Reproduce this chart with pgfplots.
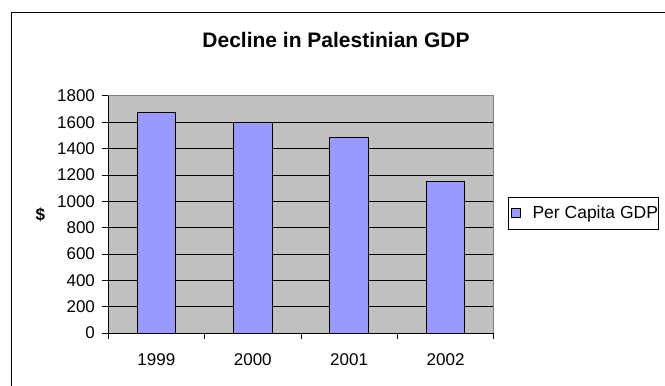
\documentclass[border=0pt]{standalone}
\usepackage{pgfplots}
\pgfplotsset{compat=1.18}
\usepackage{fontspec}
\setmainfont{Liberation Sans}
\definecolor{barblue}{HTML}{9999FF}
\definecolor{plotgray}{HTML}{C0C0C0}
\definecolor{bordergray}{HTML}{808080}
\begin{document}
\begin{tikzpicture}[x=1pt,y=1pt]
\path[use as bounding box] (0,0) rectangle (665,386);
\draw[black, line width=1pt] (11,0) -- (11,373) -- (665,373);
\begin{axis}[
  at={(112.2,40.1)}, anchor=south west,
  scale only axis, width=385.6pt, height=237.3pt,
  xmin=-0.5, xmax=3.5, ymin=0, ymax=1800,
  ytick={0,200,...,1800},
  xtick={0,1,2,3},
  xticklabels={1999,2000,2001,2002},
  minor xtick={-0.5,0.5,1.5,2.5,3.5},
  major x tick style={draw=none},
  minor x tick style={draw=black, line width=0.8pt},
  y tick style={draw=black, line width=0.8pt},
  tick align=outside,
  major tick length=6pt, minor tick length=6pt,
  tick pos=left,
  ymajorgrids,
  major grid style={draw=black, line width=0.8pt},
  axis line style={draw=bordergray, line width=0.8pt},
  axis background/.style={fill=plotgray},
  /pgf/number format/assume math mode=true,
  /pgf/number format/1000 sep={},
  ticklabel style={font=\fontsize{17}{20}\selectfont},
  yticklabel style={xshift=-3.7pt},
  xticklabel style={yshift=-11pt},
  title={\textbf{Decline in Palestinian GDP}},
  title style={at={(axis description cs:0.591,1.178)}, anchor=base, font=\fontsize{21}{25}\selectfont},
  ylabel={\textbf{\$}},
  every axis y label/.style={at={(axis description cs:-0.1756,0.5)}, anchor=center, font=\fontsize{17}{20}\selectfont},
  legend style={at={(axis description cs:1.4276,0.505)}, anchor=east, draw=black, fill=white,
    font=\fontsize{17.5}{20}\selectfont, inner xsep=0.4pt, inner ysep=6.6pt, nodes={inner xsep=0pt}},
  legend image code/.code={\path (0pt,0pt) (22.8pt,0pt); \draw[fill=barblue,draw=black,line width=0.8pt] (2.3pt,-4.5pt) rectangle (11.3pt,4.5pt);},
]
\addplot[ybar, bar width=0.4, fill=barblue, draw=black, line width=1pt]
  coordinates {(0,1672) (1,1595) (2,1484) (3,1148)};
\addlegendentry{Per Capita GDP}
\draw[black, line width=0.8pt] (rel axis cs:0,1) -- (rel axis cs:0,0) -- (rel axis cs:1,0);
\end{axis}
\end{tikzpicture}
\end{document}
